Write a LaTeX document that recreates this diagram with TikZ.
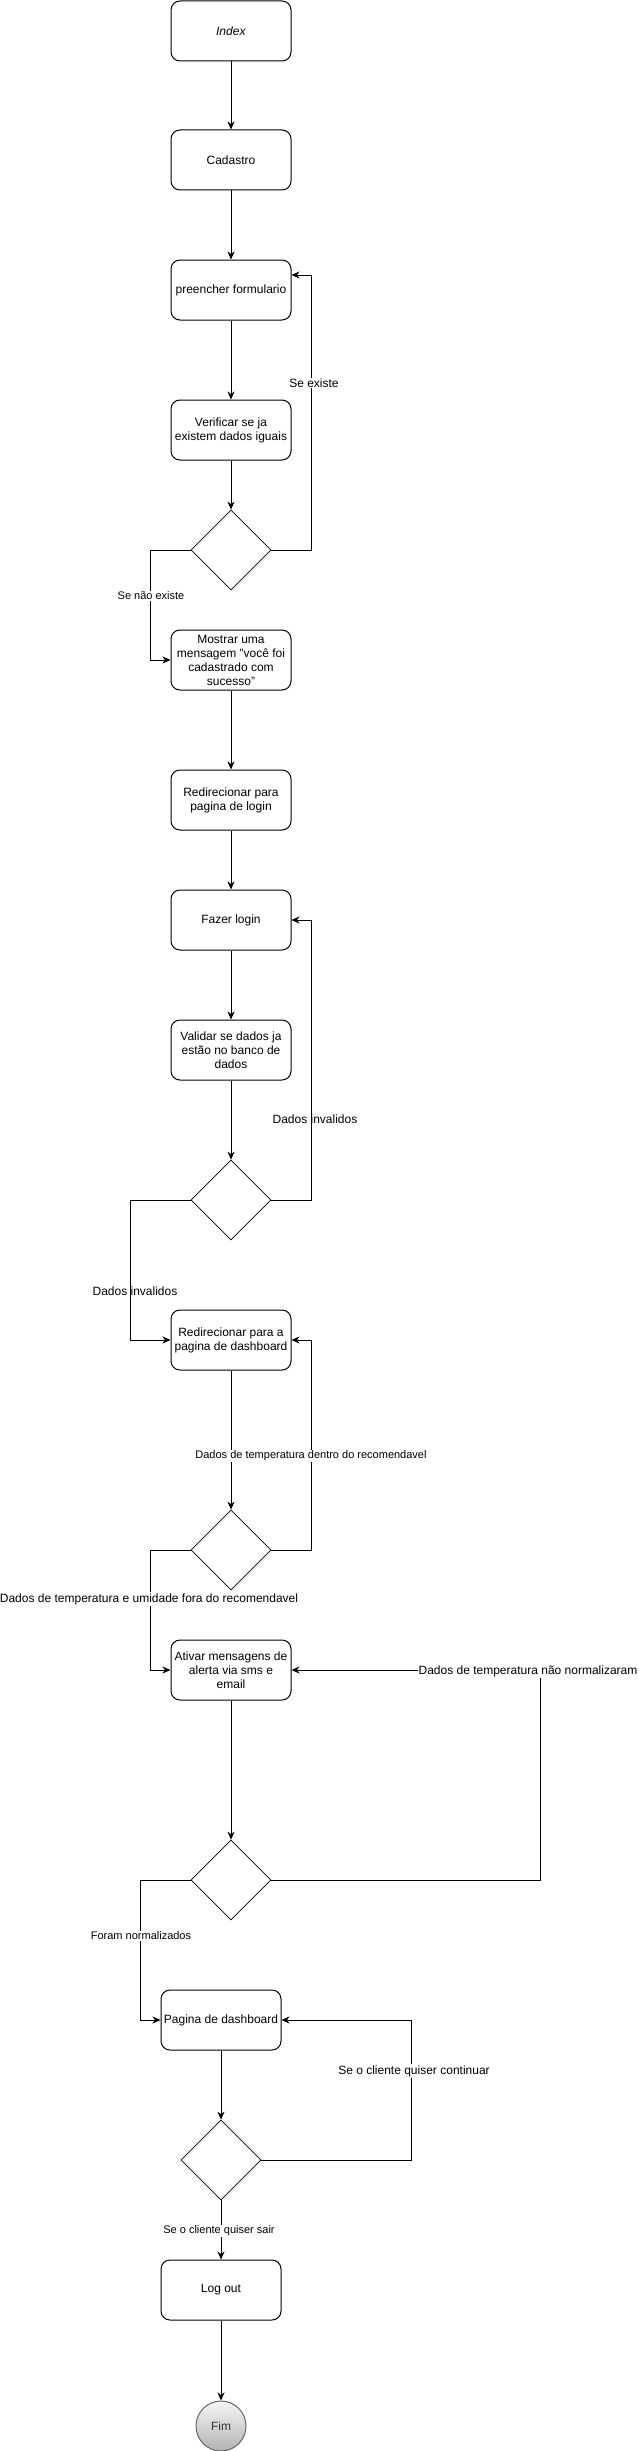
\documentclass[tikz,border=0pt]{standalone}
\usepackage{fontspec}
\setmainfont{Liberation Sans}
\usetikzlibrary{shapes.geometric,arrows.meta}
\definecolor{fimtop}{HTML}{F5F5F5}
\definecolor{fimbot}{HTML}{B3B3B3}
\definecolor{fimline}{HTML}{666666}
\begin{document}
\begin{tikzpicture}[x=1pt,y=-1pt,>={Stealth[length=8pt,width=7pt,inset=2.5pt]}]
  \tikzstyle{every node}=[font=\fontsize{12}{14}\selectfont]
  \tikzstyle{box}=[rectangle,draw,rounded corners=9pt,line width=1pt,minimum width=120pt,minimum height=60pt,align=center,inner sep=1pt]
  \tikzstyle{dec}=[diamond,draw,line width=0.7pt,minimum width=80pt,minimum height=80pt,inner sep=0pt]
  \tikzstyle{lbl}=[fill=white,inner sep=1pt]
  \tikzstyle{small}=[fill=white,inner sep=1pt,font=\fontsize{11}{13}\selectfont]
  \tikzstyle{link}=[->,line width=1pt]
  \useasboundingbox (0,0) rectangle (638,2451);
  \node[box] (index) at (231,31) {\textit{Index}};
  \node[box] (cadastro) at (231,160) {Cadastro};
  \node[box] (form) at (231,290) {preencher formulario};
  \node[box] (verif) at (231,430) {Verificar se ja\\existem dados iguais};
  \node[dec] (dec1) at (231,550) {};
  \node[box] (msg) at (231,660) {Mostrar uma\\mensagem "você foi\\cadastrado com\\sucesso"};
  \node[box] (redlogin) at (231,800) {Redirecionar para\\pagina de login};
  \node[box] (login) at (231,920) {Fazer login};
  \node[box] (valid) at (231,1050) {Validar se dados ja\\estão no banco de\\dados};
  \node[dec] (dec2) at (231,1200) {};
  \node[box] (reddash) at (231,1340) {Redirecionar para a\\pagina de dashboard};
  \node[dec] (dec3) at (231,1550) {};
  \node[box] (alert) at (231,1670) {Ativar mensagens de\\alerta via sms e\\email};
  \node[dec] (dec4) at (231,1880) {};
  \node[box] (dash) at (221,2020) {Pagina de dashboard};
  \node[dec] (dec5) at (221,2160) {};
  \node[box] (logout) at (221,2290) {Log out};
  \node[circle,draw=fimline,line width=1pt,top color=fimtop,bottom color=fimbot,minimum size=50pt,inner sep=0pt,text=black!80] (fim) at (221,2426) {Fim};

  \draw[link] (index) -- (cadastro);
  \draw[link] (cadastro) -- (form);
  \draw[link] (form) -- (verif);
  \draw[link] (verif) -- (dec1);
  \draw[link] (dec1.east) -| ([xshift=20pt,yshift=15pt]form.east) -- ([yshift=15pt]form.east);
  \draw[link] (dec1.west) -| ([xshift=-20pt]msg.west) -- (msg.west);
  \draw[link] (msg) -- (redlogin);
  \draw[link] (redlogin) -- (login);
  \draw[link] (login) -- (valid);
  \draw[link] (valid) -- (dec2);
  \draw[link] (dec2.east) -| ([xshift=20pt]login.east) -- (login.east);
  \draw[link] (dec2.west) -| ([xshift=-40pt]reddash.west) -- (reddash.west);
  \draw[link] (reddash) -- (dec3);
  \draw[link] (dec3.east) -| ([xshift=20pt]reddash.east) -- (reddash.east);
  \draw[link] (dec3.west) -| ([xshift=-20pt]alert.west) -- (alert.west);
  \draw[link] (alert) -- (dec4);
  \draw[link] (dec4.east) -| ([xshift=249pt]alert.east) -- (alert.east);
  \draw[link] (dec4.west) -| ([xshift=-20pt]dash.west) -- (dash.west);
  \draw[link] (dash) -- (dec5);
  \draw[link] (dec5.east) -| ([xshift=130pt]dash.east) -- (dash.east);
  \draw[link] (dec5) -- (logout);
  \draw[link] (logout) -- (fim);

  \node[lbl] (lexiste) at (314,383) {Se existe};
  \node[small] (lnaoexiste) at (151,596) {Se não existe};
  \node[lbl,fill=none] (linval1) at (315,1119) {Dados invalidos};
  \node[lbl,fill=none] (linval2) at (135,1291) {Dados invalidos};
  \node[small] (ldentro) at (311,1456) {Dados de temperatura dentro do recomendavel};
  \node[lbl] (lfora) at (149,1599) {Dados de temperatura e umidade fora do recomendavel};
  \node[lbl] (lnaonorm) at (528,1671) {Dados de temperatura não normalizaram};
  \node[small] (lnorm) at (141,1936) {Foram normalizados};
  \node[lbl] (lcont) at (414,2071) {Se o cliente quiser continuar};
  \node[small] (lsair) at (219,2231) {Se o cliente quiser sair};
\end{tikzpicture}
\end{document}
